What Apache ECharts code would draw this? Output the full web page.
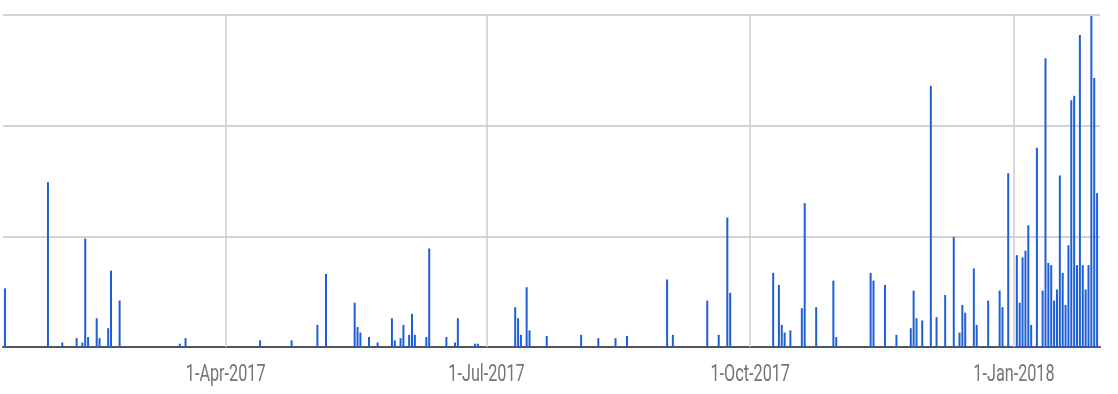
<!DOCTYPE html>
<html>
<head>
<meta charset="utf-8">
<script src="https://cdn.jsdelivr.net/npm/echarts@6/dist/echarts.min.js"></script>
<style>
html,body{margin:0;padding:0;background:#fff;}
#chart{width:1118px;height:394px;}
</style>
</head>
<body>
<div id="chart"></div>
<script>
// Daily values (only days with a non-zero value)
const dates = [
  '2017-01-14','2017-01-29','2017-02-03','2017-02-08','2017-02-10','2017-02-11','2017-02-12','2017-02-15','2017-02-16','2017-02-19',
  '2017-02-20','2017-02-23','2017-03-16','2017-03-18','2017-04-13','2017-04-24','2017-05-03','2017-05-06','2017-05-16','2017-05-17',
  '2017-05-18','2017-05-21','2017-05-24','2017-05-29','2017-05-30','2017-06-01','2017-06-02','2017-06-04','2017-06-05','2017-06-06',
  '2017-06-10','2017-06-11','2017-06-17','2017-06-20','2017-06-21','2017-06-27','2017-06-28','2017-07-11','2017-07-12','2017-07-13',
  '2017-07-15','2017-07-16','2017-07-22','2017-08-03','2017-08-09','2017-08-15','2017-08-19','2017-09-02','2017-09-04','2017-09-16',
  '2017-09-20','2017-09-23','2017-09-24','2017-10-09','2017-10-11','2017-10-12','2017-10-13','2017-10-15','2017-10-19','2017-10-20',
  '2017-10-24','2017-10-30','2017-10-31','2017-11-12','2017-11-13','2017-11-17','2017-11-21','2017-11-26','2017-11-27','2017-11-28',
  '2017-11-30','2017-12-03','2017-12-05','2017-12-08','2017-12-11','2017-12-13','2017-12-14','2017-12-15','2017-12-18','2017-12-19',
  '2017-12-23','2017-12-27','2017-12-28','2017-12-30','2018-01-02','2018-01-03','2018-01-04','2018-01-05','2018-01-06','2018-01-07',
  '2018-01-09','2018-01-11','2018-01-12','2018-01-13','2018-01-14','2018-01-15','2018-01-16','2018-01-17','2018-01-18','2018-01-19',
  '2018-01-20','2018-01-21','2018-01-22','2018-01-23','2018-01-24','2018-01-25','2018-01-26','2018-01-27','2018-01-28','2018-01-29',
  '2018-01-30'
];
const values = [
  5.3,14.9,0.4,0.8,0.4,9.8,0.9,2.6,0.8,1.7,
  6.9,4.2,0.3,0.8,0.6,0.6,2.0,6.6,4.0,1.8,
  1.3,0.9,0.4,2.6,0.6,0.8,2.0,1.1,3.0,1.1,
  0.9,8.9,0.9,0.4,2.6,0.3,0.3,3.6,2.6,1.1,
  5.4,1.5,1.0,1.1,0.8,0.8,1.0,6.1,1.1,4.2,
  1.1,11.7,4.9,6.7,5.6,2.0,1.3,1.5,3.5,13.0,
  3.6,6.0,0.9,6.7,6.0,5.6,1.1,1.7,5.1,2.6,
  2.4,23.6,2.7,4.7,9.95,1.3,3.8,3.1,7.1,2.0,
  4.2,5.1,3.6,15.7,8.3,4.0,8.1,8.7,11.0,2.0,
  18.0,5.1,26.1,7.6,7.4,4.2,5.2,15.5,6.7,3.8,
  9.2,22.3,22.7,7.4,28.2,7.4,5.2,7.4,29.9,24.3,
  13.9
];
const tickDates = ['2017-04-01','2017-07-01','2017-10-01','2018-01-01'];
const tickLabels = ['1-Apr-2017','1-Jul-2017','1-Oct-2017','1-Jan-2018'];
const axisMin = '2017-01-13T16:00';
const axisMax = '2018-01-30T16:00';
const yMax = 30, yStep = 10;

function toTs(s){
  const [d, t] = s.split('T');
  const [y, m, dd] = d.split('-').map(Number);
  let h = 0, mi = 0;
  if (t) { [h, mi] = t.split(':').map(Number); }
  return new Date(y, m - 1, dd, h, mi).getTime();
}
const seriesData = dates.map((d, i) => [toTs(d), values[i]]);
const tickTs = tickDates.map(toTs);

const chart = echarts.init(document.getElementById('chart'), null, {renderer: 'canvas'});
chart.setOption({
  animation: false,
  backgroundColor: '#ffffff',
  grid: {left: 3, right: 18, top: 15, bottom: 47, containLabel: false},
  xAxis: {
    type: 'time',
    min: toTs(axisMin),
    max: toTs(axisMax),
    axisLine: {show: true, lineStyle: {color: '#555555', width: 2}},
    axisTick: {show: false},
    splitLine: {show: false},
    axisLabel: {show: false}
  },
  yAxis: {
    type: 'value',
    min: 0,
    max: yMax,
    interval: yStep,
    axisLine: {show: false},
    axisTick: {show: false},
    axisLabel: {show: false},
    splitLine: {show: true, lineStyle: {color: '#d3d3d3', width: 2}}
  },
  series: [{
    type: 'bar',
    data: seriesData,
    barWidth: 2,
    itemStyle: {color: '#1f5fd6'},
    markLine: {
      silent: true,
      symbol: 'none',
      label: {show: false},
      lineStyle: {color: '#cccccc', width: 1.5, type: 'solid'},
      data: tickTs.map(t => ({xAxis: t})),
      z: 1
    }
  }]
});

// Axis tick labels (narrow, tall text as in the reference), placed via the axis scale
const baseY = chart.convertToPixel({yAxisIndex: 0}, 0);
chart.setOption({
  graphic: tickTs.map((t, i) => {
    const px = chart.convertToPixel({xAxisIndex: 0}, t);
    return {
      type: 'text',
      x: px,
      y: baseY + 28,
      scaleX: 0.69,
      scaleY: 1,
      silent: true,
      style: {
        text: tickLabels[i],
        fill: '#757575',
        fontSize: 23.5,
        fontFamily: 'Roboto, sans-serif',
        align: 'center',
        verticalAlign: 'middle'
      }
    };
  })
});
</script>
</body>
</html>
